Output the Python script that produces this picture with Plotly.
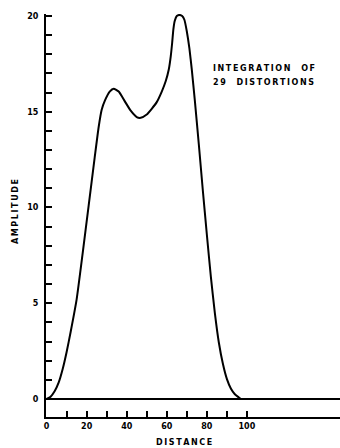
import plotly.graph_objects as go

distance = [0, 2, 4, 6, 8, 10, 12, 15, 18, 21, 24, 26, 27.5, 29.2, 31.5, 33.5, 36,
            39, 42, 45, 47, 50, 52.5, 55, 57.5, 59.5, 61, 62, 62.7, 63.3, 64,
            65, 66.3, 67.7, 68.8, 70, 71.3, 72.5, 74, 76, 78, 80, 82, 84, 86, 88,
            90, 92, 94, 96, 97]
amplitude = [0, 0.12, 0.4, 0.85, 1.55, 2.45, 3.5, 5.2, 7.6, 10.1, 12.6, 14.2, 15.1,
             15.6, 16.05, 16.2, 16.05, 15.55, 15.05, 14.72, 14.68, 14.85, 15.15,
             15.5, 16.05, 16.6, 17.2, 17.9, 18.6, 19.3, 19.75, 20.0, 20.05, 20.0,
             19.8, 19.2, 18.3, 17.2, 15.6, 13.3, 10.9, 8.6, 6.4, 4.5, 2.95, 1.85,
             1.05, 0.55, 0.25, 0.08, 0]

x_ticks = list(range(0, 101, 10))
x_labels = ["0", "", "20", "", "40", "", "60", "", "80", "", "100"]
y_ticks = list(range(0, 21))
y_labels = [str(v) if v % 5 == 0 else "" for v in y_ticks]

def spaced(s):
    return "\u2009".join(s)

fig = go.Figure()
fig.add_trace(go.Scatter(x=distance, y=amplitude, mode="lines",
                         line=dict(color="black", width=2, shape="spline", smoothing=0.5),
                         hoverinfo="skip", showlegend=False))

tickfont = dict(family="DejaVu Sans", size=8, color="black", weight="bold")
textfont = dict(family="DejaVu Sans", size=8, color="black", weight="bold")

fig.update_layout(
    width=340, height=448,
    margin=dict(l=46, r=0, t=14, b=31),
    paper_bgcolor="white", plot_bgcolor="white",
    showlegend=False,
    xaxis=dict(range=[-0.3, 146.5], showgrid=False, zeroline=False,
               showline=True, linecolor="black", linewidth=2,
               tickmode="array", tickvals=x_ticks, ticktext=x_labels,
               ticks="inside", ticklen=6, tickwidth=1.5, tickcolor="black",
               tickfont=tickfont),
    yaxis=dict(range=[-0.94, 20.1], showgrid=False,
               zeroline=True, zerolinecolor="black", zerolinewidth=1.6,
               showline=True, linecolor="black", linewidth=2,
               tickmode="array", tickvals=y_ticks, ticktext=y_labels,
               ticks="inside", ticklen=6, tickwidth=1.5, tickcolor="black",
               ticklabelstandoff=4, tickfont=tickfont),
)

fig.add_annotation(text=spaced("DISTANCE"), xref="paper", yref="paper",
                   x=(184 - 46) / 294, y=-25 / 403, xanchor="center", yanchor="middle",
                   showarrow=False, font=textfont)
fig.add_annotation(text=spaced("AMPLITUDE"), xref="paper", yref="paper",
                   x=-31 / 294, y=(417 - 212) / 403, xanchor="center", yanchor="middle",
                   textangle=-90, showarrow=False, font=textfont)
fig.add_annotation(text=spaced("INTEGRATION") + "\u2003 " + spaced("OF"),
                   xref="paper", yref="paper",
                   x=(211 - 46) / 294, y=(417 - 68) / 403, xanchor="left", yanchor="middle",
                   align="left", showarrow=False, font=textfont)
fig.add_annotation(text=spaced("29") + "\u2003 " + spaced("DISTORTIONS"),
                   xref="paper", yref="paper",
                   x=(211 - 46) / 294, y=(417 - 83) / 403, xanchor="left", yanchor="middle",
                   align="left", showarrow=False, font=textfont)

fig.write_html("out.html")
